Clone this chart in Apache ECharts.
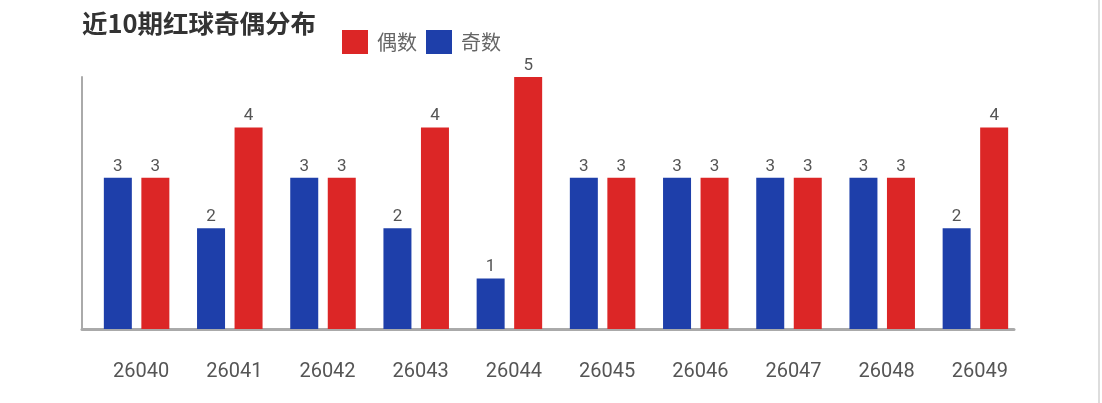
<!DOCTYPE html>
<html>
<head>
<meta charset="utf-8">
<script src="https://cdn.jsdelivr.net/npm/echarts@6/dist/echarts.min.js"></script>
<style>
html,body{margin:0;padding:0;background:#fff;}
#main{width:1102px;height:403px;}
</style>
</head>
<body>
<div id="main"></div>
<script>
const categories = ['26040','26041','26042','26043','26044','26045','26046','26047','26048','26049'];
const oddValues  = [3, 2, 3, 2, 1, 3, 3, 3, 3, 2];
const evenValues = [3, 4, 3, 4, 5, 3, 3, 3, 3, 4];
const titleText = '近10期红球奇偶分布';
const oddName = '奇数';
const evenName = '偶数';

const chart = echarts.init(document.getElementById('main'));
const labelStyle = {show: true, position: 'top', distance: 3, color: '#555', fontSize: 17, fontFamily: 'Roboto'};
chart.setOption({
  animation: false,
  title: {
    text: titleText, left: 77, top: 6,
    textStyle: {fontSize: 25.5, fontWeight: 'bold', color: '#333', fontFamily: 'Noto Sans CJK SC'}
  },
  legend: {
    data: [evenName, oddName], left: 337, top: 25,
    itemWidth: 26, itemHeight: 24, itemGap: 9, icon: 'rect',
    textStyle: {fontSize: 20, color: '#666', fontFamily: 'Noto Sans CJK SC', padding: [0, 0, 0, 4]}
  },
  grid: [
    {left: 90, right: 80, top: 77, bottom: 74},
    {left: 82, right: 88, top: 77, bottom: 74}
  ],
  xAxis: [
    {
      type: 'category', data: categories, gridIndex: 0,
      axisLine: {show: false}, axisTick: {show: false},
      axisLabel: {margin: 33, fontSize: 20, color: '#555', fontFamily: 'Roboto', padding: [0, 0, 0, 9]}
    },
    {
      type: 'category', data: categories, gridIndex: 1,
      axisLine: {show: true, lineStyle: {color: '#aaa', width: 3}},
      axisTick: {show: false}, axisLabel: {show: false}
    }
  ],
  yAxis: [
    {
      type: 'value', min: 0, max: 5, gridIndex: 0, offset: 8,
      axisLine: {show: true, lineStyle: {color: '#aaa', width: 2}},
      axisTick: {show: false}, axisLabel: {show: false}, splitLine: {show: false}
    },
    {
      type: 'value', min: 0, max: 5, gridIndex: 1, show: false
    }
  ],
  series: [
    {
      name: oddName, type: 'bar', data: oddValues, barWidth: 28, barGap: '34%',
      itemStyle: {color: '#1e3faa'}, label: labelStyle
    },
    {
      name: evenName, type: 'bar', data: evenValues, barWidth: 28, barGap: '34%',
      itemStyle: {color: '#dc2626'}, label: labelStyle
    }
  ],
  graphic: [
    {type: 'line', shape: {x1: 1099, y1: 0, x2: 1099, y2: 403}, style: {stroke: '#ddd', lineWidth: 2}}
  ]
});
</script>
</body>
</html>
